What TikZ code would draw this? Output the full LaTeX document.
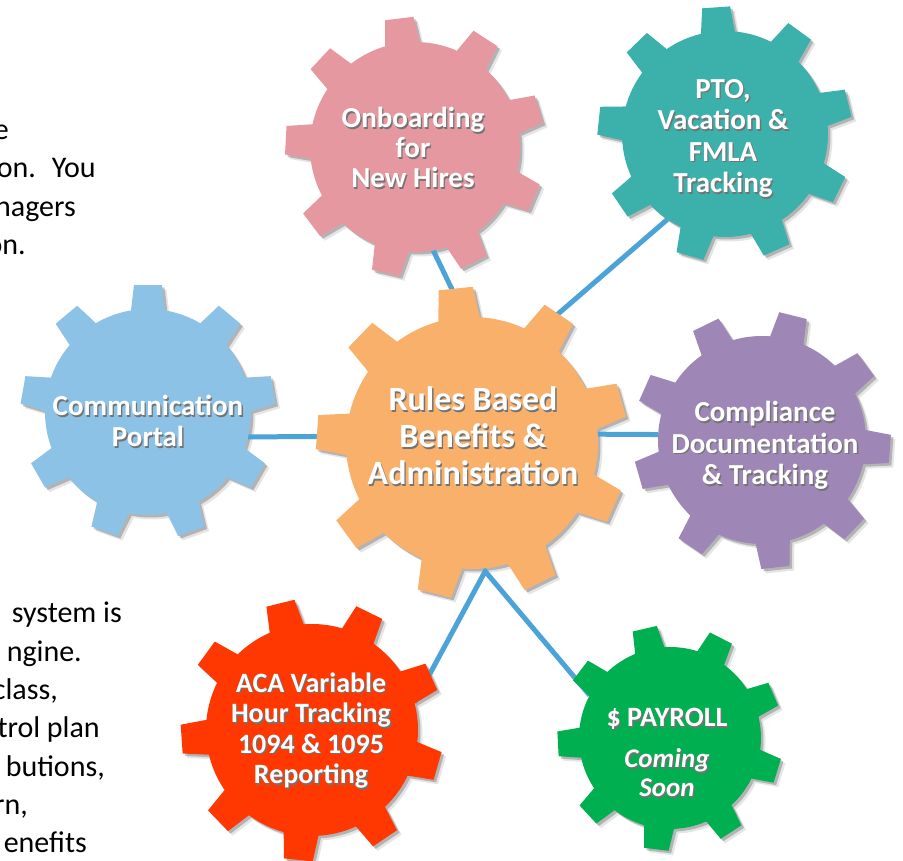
\documentclass[tikz,border=0pt]{standalone}
\usepackage{fontspec}
\setmainfont{Carlito}
\usetikzlibrary{calc}
\definecolor{cOrange}{HTML}{F8B06A}
\definecolor{cPink}{HTML}{E5989F}
\definecolor{cTeal}{HTML}{3CB0AB}
\definecolor{cSky}{HTML}{8CC2E6}
\definecolor{cPurple}{HTML}{9E86B6}
\definecolor{cRed}{HTML}{FF3700}
\definecolor{cGreen}{HTML}{00AF50}
\definecolor{cLine}{HTML}{4BA3D8}
\newcommand\gearpath[1]{(-9.5:#1) \foreach \k in {0,...,8}{ -- (\k*40-6.3:1.24*#1) -- (\k*40+6.3:1.24*#1) -- (\k*40+9.5:#1) arc[start angle=\k*40+9.5, end angle=\k*40+30.5, radius=#1] } -- cycle}
\newcommand\gearshadow[3]{%
  \begin{scope}[shift={(#1)}]
    \begin{scope}[shift={(4.5,-4.5)}, rotate=#3]\fill[black,opacity=.10] \gearpath{#2};\end{scope}
    \begin{scope}[shift={(2.5,-2.5)}, rotate=#3]\fill[black,opacity=.22] \gearpath{#2};\end{scope}
  \end{scope}}
\newcommand\gearfill[4]{%
  \begin{scope}[shift={(#1)}, rotate=#3]\fill[#4] \gearpath{#2};\end{scope}}
\newcommand\sh[1]{\leavevmode\rlap{\kern1.3pt\raisebox{-1.3pt}{\color{black!55}#1}}#1}
\tikzset{
  gearnode/.style={circle, minimum size=#1, inner sep=0pt, outer sep=0pt},
  lbl/.style={text=white, font=\bfseries\fontsize{29}{31.5}\selectfont, align=center, anchor=base, inner sep=0pt},
  conn/.style={draw=cLine, line width=5pt, line join=miter},
  bodytxt/.style={font=\fontsize{30}{38.5}\selectfont, anchor=base east, inner sep=0pt, text=black}
}
\begin{document}
\begin{tikzpicture}[x=1pt,y=1pt]
\useasboundingbox (0,0) rectangle (903,861);
% gear anchors
\node[gearnode=252pt] (central) at (472,418) {};
\node[gearnode=210pt] (onb) at (415,714) {};
\node[gearnode=206pt] (pto) at (725,727) {};
\node[gearnode=206pt] (comm) at (148,449) {};
\node[gearnode=208pt] (compl) at (762,421) {};
\node[gearnode=212pt] (aca) at (312,131) {};
\node[gearnode=182pt] (pay) at (670,123) {};
\coordinate (hubB) at ([yshift=-3pt]central.-84);
% shadows
\gearshadow{central}{126}{96}
\gearshadow{onb}{105}{97}
\gearshadow{pto}{103}{94}
\gearshadow{comm}{103}{90}
\gearshadow{compl}{104}{76}
\gearshadow{aca}{106}{104}
\gearshadow{pay}{91}{103}
% connectors
\draw[conn] (comm.-14) -- (central.177);
\draw[conn] (central.4) -- (compl.177);
\draw[conn] (onb.-80) -- (central.93);
\draw[conn] (central.60) -- (pto.-124);
\draw[conn] (aca.15) -- (hubB) -- (pay.152);
% gears
\gearfill{central}{126}{96}{cOrange}
\gearfill{onb}{105}{97}{cPink}
\gearfill{pto}{103}{94}{cTeal}
\gearfill{comm}{103}{90}{cSky}
\gearfill{compl}{104}{76}{cPurple}
\gearfill{aca}{106}{104}{cRed}
\gearfill{pay}{91}{103}{cGreen}
% labels
\node[lbl, font=\bfseries\fontsize{34}{37}\selectfont] (tCentral) at (473,376) {\sh{Rules Based}\\\sh{Benefits \&}\\\sh{Administration}};
\node[lbl, font=\bfseries\fontsize{29}{30}\selectfont] (tOnb) at (413,673) {\sh{Onboarding}\\\sh{for}\\\sh{New Hires}};
\node[lbl] (tPto) at (723,668) {\sh{PTO,}\\\sh{Vacation \&}\\\sh{FMLA}\\\sh{Tracking}};
\node[lbl, font=\bfseries\fontsize{29}{31}\selectfont] (tComm) at (148,414) {\sh{Communication}\\\sh{Portal}};
\node[lbl] (tCompl) at (765,376) {\sh{Compliance}\\\sh{Documentation}\\\sh{\& Tracking}};
\node[lbl, font=\bfseries\fontsize{28}{30.5}\selectfont] (tAca) at (311,77) {\sh{ACA Variable}\\\sh{Hour Tracking}\\\sh{1094 \& 1095}\\\sh{Reporting}};
\node[lbl, font=\bfseries\fontsize{28}{30.5}\selectfont] (tPay) at (667,134) {\sh{\$ PAYROLL}};
\node[lbl, font=\bfseries\itshape\fontsize{27}{29}\selectfont] (tSoon) at (667,64) {\sh{Coming}\\\sh{Soon}};
% body text fragments
\node[bodytxt] (b1) at (9,721) {e};
\node[bodytxt] (b2) at (96,683) {on.~ You};
\node[bodytxt] (b3) at (76,644) {nagers};
\node[bodytxt] (b4) at (26,606) {on.};
\node[bodytxt] (c1) at (122,238) {system is};
\node[bodytxt] (c2) at (82,199) {ngine.};
\node[bodytxt] (c3) at (58,161) {class,};
\node[bodytxt] (c4) at (100,123) {trol plan};
\node[bodytxt] (c5) at (105,84) {butions,};
\node[bodytxt] (c6) at (28,46) {rn,};
\node[bodytxt] (c7) at (87,8) {enefits};
\end{tikzpicture}
\end{document}
